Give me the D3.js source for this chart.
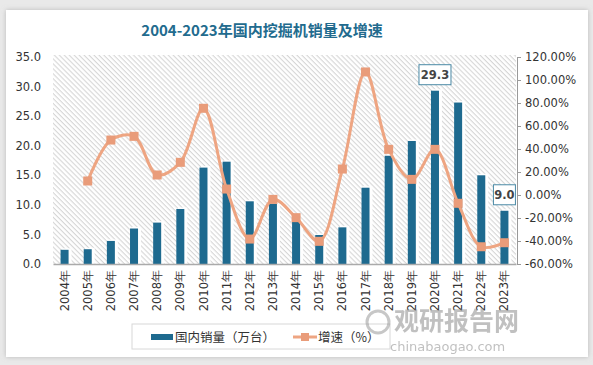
<!DOCTYPE html>
<html><head><meta charset="utf-8">
<script src="https://cdn.jsdelivr.net/npm/d3@7/dist/d3.min.js"></script>
<style>
html,body{margin:0;padding:0;background:#e9e9e9;}
svg{display:block;}
</style></head>
<body>
<script>
const years = ["2004年","2005年","2006年","2007年","2008年","2009年","2010年","2011年","2012年","2013年","2014年","2015年","2016年","2017年","2018年","2019年","2020年","2021年","2022年","2023年"];
const sales = [2.4,2.5,3.9,6.0,7.0,9.3,16.3,17.3,10.6,10.2,7.2,4.9,6.2,12.9,18.3,20.8,29.3,27.3,15.0,9.0];
const growth = [null,12.2,47.8,51.0,17.4,28.4,75.4,5.2,-38.3,-3.8,-19.7,-40.3,22.6,107.0,39.7,13.6,39.7,-7.2,-45.0,-41.5];
const leftTicks = [0,5,10,15,20,25,30,35];
const rightTicks = [-60,-40,-20,0,20,40,60,80,100,120];
const labelled = ["2020年","2023年"];

const W = 593, H = 365;
const svg = d3.select("body").append("svg").attr("width", W).attr("height", H);
const defs = svg.append("defs");
const pat = defs.append("pattern").attr("id","hatch").attr("patternUnits","userSpaceOnUse")
  .attr("width",3.5).attr("height",3.5).attr("patternTransform","rotate(45)");
pat.append("rect").attr("width",3.5).attr("height",3.5).attr("fill","#ffffff");
pat.append("rect").attr("width",3.5).attr("height",1.1).attr("fill","#d6d6d6");
const f = defs.append("filter").attr("id","sh").attr("x","-50%").attr("y","-50%").attr("width","200%").attr("height","200%");
f.append("feDropShadow").attr("dx",0).attr("dy",0).attr("stdDeviation",2.5).attr("flood-color","#999").attr("flood-opacity",0.6);

// card
svg.append("rect").attr("x",6).attr("y",10).attr("width",582).attr("height",347).attr("fill","#fff")
  .attr("filter","url(#sh)");

const m = {l:53, r:516, t:57, b:264};
const x = d3.scaleBand().domain(years).range([m.l, m.r]).padding(0);
const yL = d3.scaleLinear().domain([0,35]).range([m.b, m.t]);
const yR = d3.scaleLinear().domain([-60,120]).range([m.b, m.t]);

svg.append("rect").attr("x",m.l).attr("y",m.t-2).attr("width",m.r-m.l).attr("height",m.b-m.t+2).attr("fill","url(#hatch)");

svg.append("text").attr("x",262).attr("y",36).attr("text-anchor","middle")
  .attr("font-family","'Noto Sans CJK SC', sans-serif").attr("font-weight","bold").attr("font-size",15)
  .attr("fill","#226b8e").text("2004-2023年国内挖掘机销量及增速");

// left axis
const gl = svg.append("g").attr("transform",`translate(${m.l},0)`)
  .call(d3.axisLeft(yL).tickValues(leftTicks).tickFormat(d3.format(".1f")).tickSize(0).tickPadding(12));
gl.select(".domain").remove();
gl.selectAll("text").attr("font-family","'DejaVu Sans', sans-serif").attr("font-size",11.5).attr("fill","#333");

// right axis
const gr = svg.append("g").attr("transform",`translate(${m.r+1},0)`)
  .call(d3.axisRight(yR).tickValues(rightTicks).tickFormat(d=>d.toFixed(2)+"%").tickSize(4).tickPadding(4));
gr.select(".domain").attr("stroke","#999");
gr.selectAll(".tick line").attr("stroke","#999");
gr.selectAll("text").attr("font-family","'DejaVu Sans', sans-serif").attr("font-size",11.5).attr("fill","#333");

// bars
const bw = 8;
const bars = svg.append("g");
bars.selectAll("rect.s").data(years).join("rect")
  .attr("x", d=>x(d)+x.bandwidth()/2-bw/2+1.5).attr("y", (d,i)=>yL(sales[i])-1.5)
  .attr("width", bw+1.5).attr("height",(d,i)=>m.b-yL(sales[i])+1.5).attr("fill","#ffffff").attr("opacity",0.95);
bars.selectAll("rect.b").data(years).join("rect")
  .attr("x", d=>x(d)+x.bandwidth()/2-bw/2).attr("y",(d,i)=>yL(sales[i]))
  .attr("width", bw).attr("height",(d,i)=>m.b-yL(sales[i])).attr("fill","#1e6a8f");

// bottom axis
const gx = svg.append("g").attr("transform",`translate(0,${m.b})`)
  .call(d3.axisBottom(x).tickSize(0).tickPadding(0));
gx.select(".domain").attr("stroke","#aaa").attr("stroke-width",1.5);
gx.selectAll("text").attr("font-family","'DejaVu Sans', sans-serif").attr("font-size",11.5).attr("fill","#333")
  .attr("transform","rotate(-90)").attr("text-anchor","end").attr("dx",-6).attr("dy","0.35em").attr("x",0).attr("y",0);

// line
const pts = years.map((d,i)=>({d, v:growth[i]})).filter(p=>p.v!==null);
const line = d3.line().x(p=>x(p.d)+x.bandwidth()/2).y(p=>yR(p.v)).curve(d3.curveCatmullRom.alpha(0.5));
svg.append("path").datum(pts).attr("d",line).attr("fill","none").attr("stroke","#eea582").attr("stroke-width",3);
svg.append("g").selectAll("rect").data(pts).join("rect")
  .attr("x",p=>x(p.d)+x.bandwidth()/2-4.5).attr("y",p=>yR(p.v)-4.5).attr("width",9).attr("height",9)
  .attr("fill","#e99c7a");

// data labels
labelled.forEach(lab=>{
  const i = years.indexOf(lab);
  const cx = x(lab)+x.bandwidth()/2;
  const top = yL(sales[i]);
  const g = svg.append("g");
  const txt = sales[i].toFixed(1);
  const w = txt.length>3 ? 32 : 22, h = 20;
  g.append("rect").attr("x",cx-w/2).attr("y",top-6-h).attr("width",w).attr("height",h)
    .attr("fill","#fff").attr("stroke","#4a8aa6").attr("stroke-width",1);
  g.append("text").attr("x",cx).attr("y",top-6-h/2).attr("dy","0.36em").attr("text-anchor","middle")
    .attr("font-family","'DejaVu Sans', sans-serif").attr("font-weight","bold").attr("font-size",11.5).attr("fill","#444").text(txt);
});

// legend
const lg = svg.append("g");
lg.append("rect").attr("x",132).attr("y",324).attr("width",258).attr("height",25).attr("fill","#fff").attr("stroke","#d8d8d8");
lg.append("rect").attr("x",151).attr("y",334).attr("width",22).attr("height",6).attr("fill","#1e6a8f");
lg.append("text").attr("x",175).attr("y",337).attr("dy","0.36em").attr("font-family","'Noto Sans CJK SC', sans-serif")
  .attr("font-size",12.5).attr("fill","#333").text("国内销量（万台）");
lg.append("line").attr("x1",293).attr("x2",317).attr("y1",337).attr("y2",337).attr("stroke","#eea582").attr("stroke-width",3);
lg.append("rect").attr("x",301).attr("y",333).attr("width",8).attr("height",8).attr("fill","#e99c7a");
lg.append("text").attr("x",318).attr("y",337).attr("dy","0.36em").attr("font-family","'Noto Sans CJK SC', sans-serif")
  .attr("font-size",12.5).attr("fill","#333").text("增速（%）");

// watermark
const wm = svg.append("g").attr("opacity",0.55);
wm.append("circle").attr("cx",378).attr("cy",322).attr("r",11).attr("fill","none").attr("stroke","#9a9a9a").attr("stroke-width",3);
wm.append("text").attr("x",394).attr("y",330).attr("font-family","'Noto Sans CJK SC', sans-serif").attr("font-weight","bold")
  .attr("font-size",25).attr("fill","#8d8d8d").text("观研报告网");
wm.append("text").attr("x",390).attr("y",351).attr("font-family","'DejaVu Sans', sans-serif")
  .attr("font-size",13).attr("fill","#8d8d8d").text("chinabaogao.com");
</script>
</body></html>
